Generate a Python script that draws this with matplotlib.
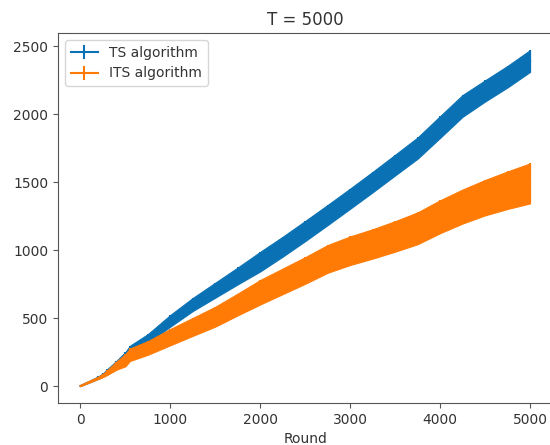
import matplotlib
matplotlib.use("Agg")
import matplotlib.pyplot as plt
import numpy as np

rounds = [0, 100, 200, 250, 300, 400, 500, 550, 750, 1000, 1250, 1500, 1750,
          2000, 2250, 2500, 2750, 3000, 3250, 3500, 3750, 4000, 4250, 4500,
          4750, 5000]

ts_mean = [0, 30, 62, 80, 110, 165, 225, 268, 350, 480, 600, 705, 810,
           915, 1025, 1140, 1258, 1378, 1500, 1625, 1750, 1905, 2060, 2170,
           2275, 2390]
ts_err = [0, 4, 8, 12, 15, 20, 25, 28, 32, 43, 48, 55, 62,
          72, 73, 74, 74, 74, 75, 76, 78, 80, 80, 78, 79, 80]

its_mean = [0, 30, 60, 78, 100, 150, 190, 230, 280, 360, 435, 510, 600,
            690, 770, 850, 935, 995, 1045, 1100, 1160, 1245, 1320, 1385,
            1440, 1490]
its_err = [0, 4, 8, 12, 18, 30, 45, 46, 50, 60, 66, 73, 80,
           90, 94, 98, 102, 105, 108, 112, 117, 121, 125, 130, 138, 147]

labels = ["TS algorithm", "ITS algorithm"]
colors = ["#0a72b4", "#ff7b05"]

text_c = "#333333"
plt.rcParams["text.color"] = text_c
plt.rcParams["axes.labelcolor"] = text_c
plt.rcParams["xtick.color"] = "#555555"
plt.rcParams["ytick.color"] = "#555555"
plt.rcParams["xtick.labelcolor"] = text_c
plt.rcParams["ytick.labelcolor"] = text_c
plt.rcParams["axes.edgecolor"] = "#555555"

fig = plt.figure(figsize=(5.5, 4.45), dpi=100)
ax = fig.add_axes([58 / 550, 42 / 445, 494.5 / 550, 370 / 445])

x = np.array(rounds)
for i, (mean, err, lab, col) in enumerate(
        [(ts_mean, ts_err, labels[0], colors[0]),
         (its_mean, its_err, labels[1], colors[1])]):
    m = np.array(mean, dtype=float)
    e = np.array(err, dtype=float)
    ax.errorbar(x, m, yerr=e, color=col, label=lab, linewidth=1.5,
                zorder=1 + 2 * i)
    ax.fill_between(x, m - e, m + e, color=col, linewidth=0.8,
                    edgecolor=col, zorder=2 + 2 * i)

ax.set_xlim(-250, 5250)
ax.set_ylim(-125, 2596)
ax.set_xticks([0, 1000, 2000, 3000, 4000, 5000])
ax.set_yticks([0, 500, 1000, 1500, 2000, 2500])
ax.set_title("T = 5000")
ax.set_xlabel("Round")
ax.legend(loc="upper left")

fig.savefig("out.png", dpi=100)
